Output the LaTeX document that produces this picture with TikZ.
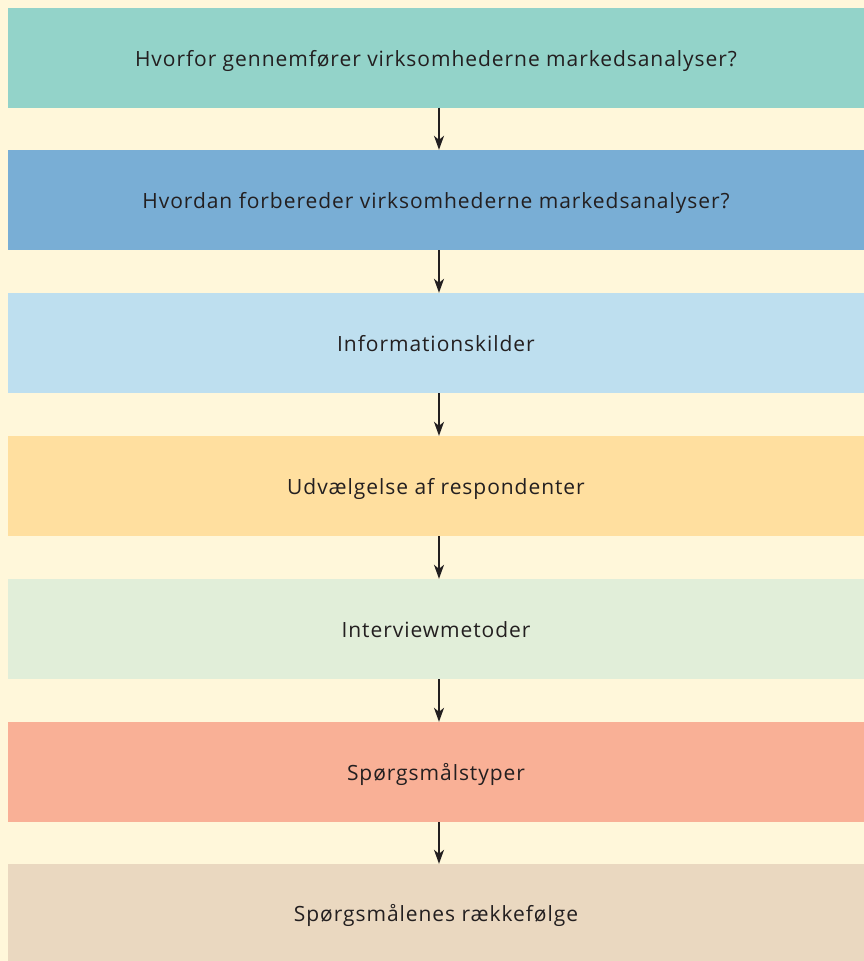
\documentclass[tikz,border=0pt]{standalone}
\usepackage{fontspec}
\setmainfont{Open Sans}[LetterSpace=4.5]
\usetikzlibrary{arrows.meta}
\definecolor{bg}{HTML}{FFF7DA}
\definecolor{cA}{HTML}{93D3C9}
\definecolor{cB}{HTML}{79AED5}
\definecolor{cC}{HTML}{BEDFEF}
\definecolor{cD}{HTML}{FFDF9F}
\definecolor{cE}{HTML}{E1EED9}
\definecolor{cF}{HTML}{F9B096}
\definecolor{cG}{HTML}{EAD8C0}
\definecolor{ink}{HTML}{231F20}
\tikzset{
  stage/.style={draw=none, minimum width=856pt, minimum height=100pt, inner sep=0pt,
    text height=21pt, text depth=4pt,
    text=ink, font=\fontsize{21}{24}\selectfont},
  flow/.style={draw=ink, line width=1.5pt, -{Stealth[length=14pt,width=10pt,inset=4pt]}}
}
\begin{document}
\begin{tikzpicture}[x=1pt,y=-1pt]
  \fill[bg] (0,0) rectangle (864,961);
  \useasboundingbox (0,0) rectangle (864,961);
  \node[stage, fill=cA] (s1) at (436,57.5) {Hvorfor gennemfører virksomhederne markedsanalyser?};
  \node[stage, fill=cB] (s2) at (436,200) {Hvordan forbereder virksomhederne markedsanalyser?};
  \node[stage, fill=cC] (s3) at (436,343) {Informationskilder};
  \node[stage, fill=cD] (s4) at (436,486) {Udvælgelse af respondenter};
  \node[stage, fill=cE] (s5) at (436,629) {Interviewmetoder};
  \node[stage, fill=cF] (s6) at (436,772) {Spørgsmålstyper};
  \node[stage, fill=cG, minimum height=97pt] (s7) at (436,912.5) {Spørgsmålenes rækkefølge};
  \foreach \a/\b in {s1/s2,s2/s3,s3/s4,s4/s5,s5/s6,s6/s7}
    \draw[flow] ([xshift=3pt]\a.south) -- ([xshift=3pt]\b.north);
\end{tikzpicture}
\end{document}
